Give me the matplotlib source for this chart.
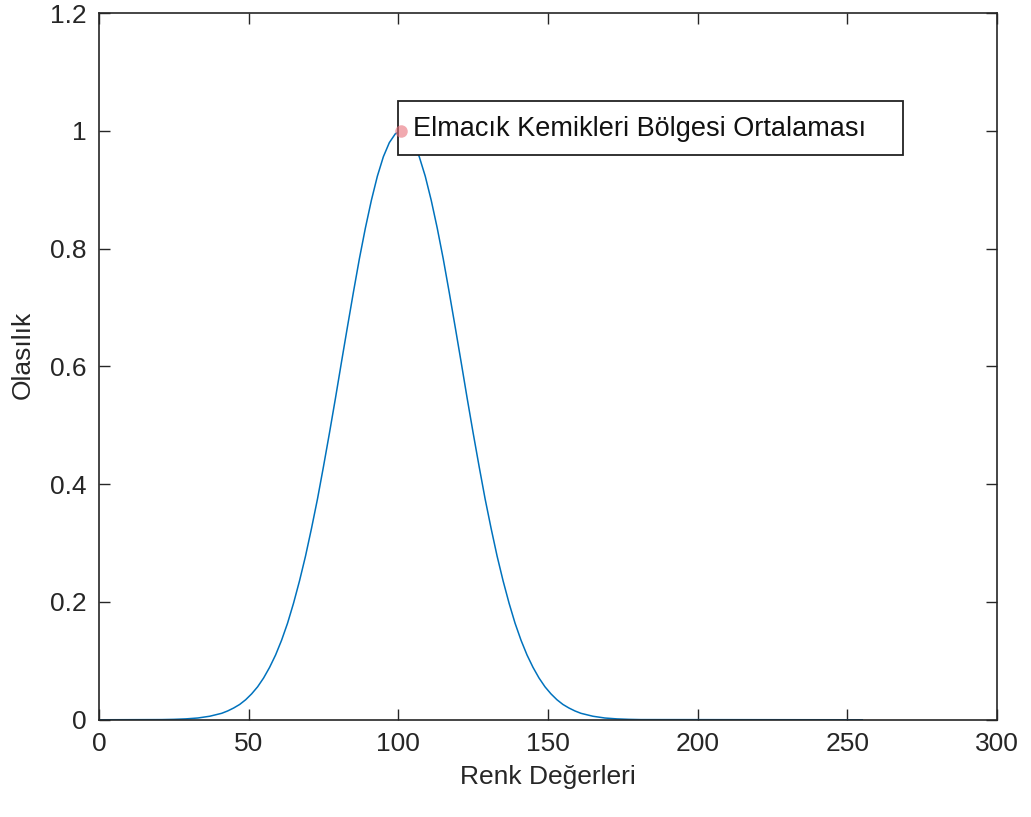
import matplotlib
matplotlib.use('Agg')
import matplotlib.pyplot as plt
from matplotlib.patches import Rectangle

plt.rcParams['font.family'] = ['Liberation Sans', 'DejaVu Sans']

# values (intensity -> probability)
renk = [0, 21, 25, 29, 33, 37, 41, 43, 45, 47, 49, 51, 53, 55, 57, 59, 61, 63, 65,
        67, 69, 71, 73, 75, 77, 79, 81, 83, 85, 87, 89, 91, 93, 95, 97, 99, 101,
        103, 105, 107, 109, 111, 113, 115, 117, 119, 121, 123, 125, 127, 129, 131,
        133, 135, 137, 139, 141, 143, 145, 147, 149, 151, 153, 155, 157, 159, 161,
        165, 169, 173, 177, 181, 255]
olasilik = [0.0, 0.0003, 0.0007, 0.0015, 0.003, 0.006, 0.011, 0.015, 0.020, 0.026,
            0.034, 0.044, 0.056, 0.071, 0.089, 0.110, 0.135, 0.164, 0.198, 0.236,
            0.278, 0.325, 0.375, 0.430, 0.487, 0.546, 0.607, 0.667, 0.726, 0.783,
            0.835, 0.882, 0.923, 0.956, 0.980, 0.995, 1.0, 0.995, 0.980, 0.956,
            0.923, 0.882, 0.835, 0.783, 0.726, 0.667, 0.607, 0.546, 0.487, 0.430,
            0.375, 0.325, 0.278, 0.236, 0.198, 0.164, 0.135, 0.110, 0.089, 0.071,
            0.056, 0.044, 0.034, 0.026, 0.020, 0.015, 0.011, 0.006, 0.003, 0.0015,
            0.0007, 0.0003, 0.0]

ortalama_x = 101
ortalama_y = 1.0
etiket = 'Elmacık Kemikleri Bölgesi Ortalaması'

xticks = [0, 50, 100, 150, 200, 250, 300]
yticks = [0, 0.2, 0.4, 0.6, 0.8, 1.0, 1.2]
ytick_labels = ['0', '0.2', '0.4', '0.6', '0.8', '1', '1.2']

fig = plt.figure(figsize=(10.31, 8.17), dpi=100)
ax = fig.add_axes([0.096, 0.119, 0.871, 0.865])

ax.plot(renk, olasilik, color='#0072BD', linewidth=1.1)

# text box like matlab's (wider margin on the right)
ax.add_patch(Rectangle((ortalama_x - 1.1, 0.959), 168.7, 0.092, facecolor='white',
                       edgecolor='#222222', linewidth=1.3, zorder=3))
ax.text(ortalama_x + 4, 1.004, etiket, fontsize=19.5, va='center', ha='left',
        color='#111111', zorder=4)
ax.plot(ortalama_x, ortalama_y, 'o', color='#e8707a', alpha=0.6, markersize=9,
        markeredgewidth=0, zorder=5)

ax.set_xlim(0, 300)
ax.set_ylim(0, 1.2)
ax.set_xticks(xticks)
ax.set_yticks(yticks)
ax.set_yticklabels(ytick_labels)
ax.tick_params(direction='in', length=8, width=1, top=True, right=True,
               labelsize=19, colors='#262626', pad=9)
for s in ax.spines.values():
    s.set_color('#262626')
    s.set_linewidth(1.2)

ax.set_xlabel('Renk Değerleri', fontsize=19, color='#262626', labelpad=6)
ax.set_ylabel('Olasılık', fontsize=19, color='#262626', labelpad=10)
ax.yaxis.set_label_coords(-0.072, 0.516)

fig.savefig('out.png', dpi=100, facecolor='white')
